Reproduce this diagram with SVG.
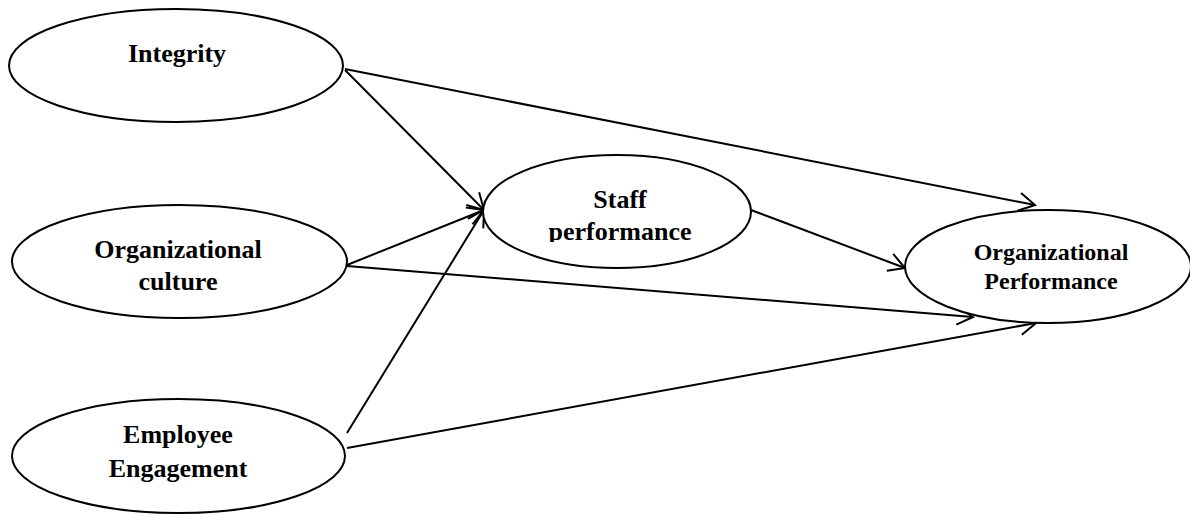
<svg xmlns="http://www.w3.org/2000/svg" width="1190" height="515" viewBox="0 0 1190 515">
<style>
.node ellipse{fill:#fff;stroke:#000;stroke-width:2}
.lbl{font-family:"Liberation Serif","Times New Roman",serif;font-weight:bold;font-size:26px;fill:#000;text-anchor:middle}
.sm{font-size:24px}
.edges line{stroke:#000;stroke-width:2;fill:none;marker-end:url(#arr)}
</style>
<defs>
<marker id="arr" markerUnits="userSpaceOnUse" viewBox="-20 -12 24 24" refX="0" refY="0" markerWidth="24" markerHeight="24" orient="auto">
<path d="M-16,-9 L0,0 L-16,9" fill="none" stroke="#000" stroke-width="2"/>
</marker>
<clipPath id="staffclip"><rect x="480" y="150" width="280" height="92"/></clipPath>
</defs>
<g class="edges">
<line x1="345" y1="69" x2="1035" y2="205"/>
<line x1="345" y1="70" x2="484" y2="210"/>
<line x1="347" y1="265" x2="484" y2="210"/>
<line x1="347" y1="266" x2="973" y2="317"/>
<line x1="347" y1="433" x2="484" y2="210"/>
<line x1="347" y1="448" x2="1036" y2="323"/>
<line x1="751" y1="210" x2="905" y2="268"/>
</g>
<g id="integrity" class="node">
<ellipse cx="176" cy="65.5" rx="167" ry="56.5"/>
<text class="lbl" x="177" y="62">Integrity</text>
</g>
<g id="culture" class="node">
<ellipse cx="179.5" cy="261.5" rx="167.5" ry="56.5"/>
<text class="lbl" x="178" y="258">Organizational</text>
<text class="lbl" x="178" y="290">culture</text>
</g>
<g id="engagement" class="node">
<ellipse cx="178.5" cy="456" rx="166.5" ry="57"/>
<text class="lbl" x="178" y="443">Employee</text>
<text class="lbl" x="178" y="477">Engagement</text>
</g>
<g id="staff" class="node">
<ellipse cx="617" cy="211.5" rx="134" ry="56.5"/>
<g clip-path="url(#staffclip)">
<text class="lbl" x="620" y="208">Staff</text>
<text class="lbl" x="620" y="240">performance</text>
</g>
</g>
<g id="orgperf" class="node">
<ellipse cx="1048" cy="266.5" rx="143" ry="56.5"/>
<text class="lbl sm" x="1051" y="260">Organizational</text>
<text class="lbl sm" x="1051" y="289">Performance</text>
</g>
</svg>
